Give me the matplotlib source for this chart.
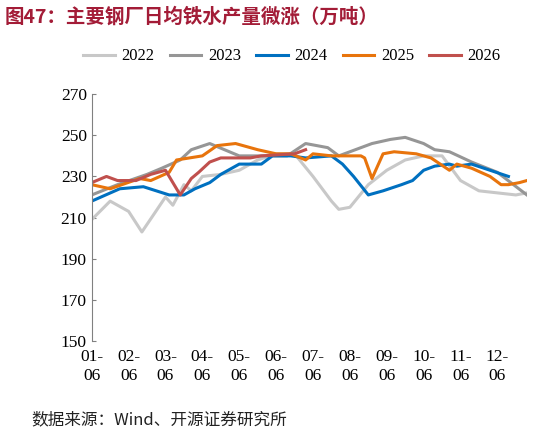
import matplotlib
matplotlib.use("Agg")
import matplotlib.pyplot as plt
import numpy as np

x22 = [0,0.5,1,1.36,1.7,2,2.2,2.5,2.7,3,3.5,4,4.5,5,5.5,6,6.5,6.7,7,7.5,8,8.5,9,9.5,10,10.5,11,11.5,11.8]
y22 = [209,218,213,203,212,220,216,226,223,230,231,233,238,241,241,230,218,214,215,226,233,238,240,240,228,223,222,221,222]
x23 = [0,0.7,1.5,1.9,2.4,2.7,3.2,4.0,5.3,5.8,6.4,6.7,7.3,7.6,8.1,8.5,9.0,9.3,9.7,10.3,11.0,11.8]
y23 = [221,226,231,234,238,243,246,240,240,246,244,240,244,246,248,249,246,243,242,237,232,221]
x24 = [0,0.76,1.4,2.1,2.5,2.8,3.2,3.5,4.0,4.6,4.9,5.4,5.8,6.5,6.8,7.1,7.5,7.9,8.4,8.7,9.0,9.3,9.7,9.9,10.3,10.8,11.3]
y24 = [218,224,225,221,221,224,227,231,236,236,240,240,239,240,236,230,221,223,226,228,233,235,236,235,236,233,230]
x25 = [0,0.5,1.3,1.6,2.1,2.3,3.0,3.4,3.9,4.5,5.0,5.4,5.8,6.0,6.5,7.3,7.4,7.6,7.9,8.2,8.8,9.2,9.7,9.9,10.3,10.8,11.1,11.3,11.6,11.8]
y25 = [226,224,229,228,232,238,240,245,246,243,241,241,238,241,240,240,239,229,241,242,241,239,233,236,234,230,226,226,227,228]
x26 = [0,0.4,0.7,1.2,1.6,2.0,2.4,2.7,2.9,3.2,3.5,4.3,4.6,5.5,5.8]
y26 = [227,230,228,228,231,233,221,229,232,237,239,239,240,241,243]

months = ["01-\n06","02-\n06","03-\n06","04-\n06","05-\n06","06-\n06","07-\n06","08-\n06","09-\n06","10-\n06","11-\n06","12-\n06"]
series = [("2022",x22,y22,"#c8c8c8"),("2023",x23,y23,"#969696"),("2024",x24,y24,"#0070c0"),
          ("2025",x25,y25,"#e8740c"),("2026",x26,y26,"#c0504d")]

fig = plt.figure(figsize=(5.46,4.36), dpi=100)
ax = fig.add_axes([0.168,0.218,0.797,0.566])
for name,xs,ys,c in series:
    ax.plot(xs, ys, color=c, lw=2.2, label=name)
ax.set_xlim(0,11.8)
ax.set_ylim(150,270)
ax.set_yticks(range(150,271,20))
ax.set_xticks(range(12))
ax.set_xticklabels(months)
for s in ["top","right","bottom"]:
    ax.spines[s].set_visible(False)
ax.spines["left"].set_color("#808080")
ax.tick_params(axis="x", length=0, pad=6)
ax.tick_params(axis="y", direction="in", length=3, color="#808080")
for lab in ax.get_xticklabels()+ax.get_yticklabels():
    lab.set_family("Liberation Serif"); lab.set_fontsize(12.5)
leg = ax.legend(loc="lower center", bbox_to_anchor=(0.46,1.06), ncol=5, frameon=False,
                prop={"family":"Liberation Serif","size":12}, handlelength=1.9, columnspacing=0.9, handletextpad=0.4)
fig.text(0.008,0.962,"图47：主要钢厂日均铁水产量微涨（万吨）", family=["Noto Sans CJK SC","DejaVu Sans"],
         weight="bold", fontsize=14, color="#a31c37", va="center")
fig.text(0.058,0.038,"数据来源：Wind、开源证券研究所", family=["Noto Sans CJK SC","DejaVu Sans"],
         fontsize=12, color="#222222", va="center")
fig.savefig("out.png", dpi=100)
